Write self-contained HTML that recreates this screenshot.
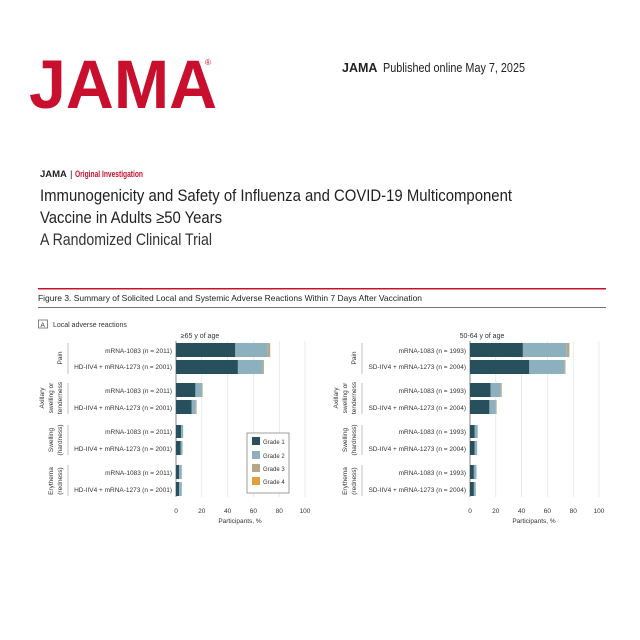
<!DOCTYPE html>
<html><head><meta charset="utf-8"><style>html,body{margin:0;padding:0;background:#fff}svg{display:block}</style></head>
<body>
<svg width="640" height="640" viewBox="0 0 640 640" xmlns="http://www.w3.org/2000/svg" font-family="Liberation Sans, sans-serif">
<rect width="640" height="640" fill="#fff"/>
<text x="29" y="108" font-size="69" font-weight="bold" fill="#c8102e" textLength="188" lengthAdjust="spacingAndGlyphs">JAMA</text>
<text x="205" y="65" font-size="8" fill="#c8102e">®</text>
<text x="342" y="72" font-size="12.5" font-weight="bold" fill="#222">JAMA</text>
<text x="383" y="72" font-size="12.5" fill="#222" textLength="142" lengthAdjust="spacingAndGlyphs">Published online May  7, 2025</text>
<text x="40" y="177" font-size="9.5" font-weight="bold" fill="#222">JAMA</text>
<text x="70" y="177" font-size="9.5" fill="#222">|</text>
<text x="75" y="177" font-size="9.5" font-weight="bold" fill="#c8102e" textLength="68" lengthAdjust="spacingAndGlyphs">Original Investigation</text>
<text x="40" y="201" font-size="16.5" fill="#222" textLength="472" lengthAdjust="spacingAndGlyphs">Immunogenicity and Safety of Influenza and COVID-19 Multicomponent</text>
<text x="40" y="223" font-size="16.5" fill="#222" textLength="182" lengthAdjust="spacingAndGlyphs">Vaccine in Adults ≥50 Years</text>
<text x="40" y="245" font-size="16.5" fill="#333" textLength="172" lengthAdjust="spacingAndGlyphs">A Randomized Clinical Trial</text>
<rect x="38" y="288" width="568" height="1.5" fill="#c8102e"/>
<text x="38" y="301" font-size="8.5" fill="#222" textLength="384" lengthAdjust="spacingAndGlyphs">Figure 3. Summary of Solicited Local and Systemic Adverse Reactions Within 7 Days After Vaccination</text>
<rect x="38" y="307" width="568" height="0.8" fill="#555"/>
<rect x="38.5" y="320" width="9" height="8" fill="none" stroke="#555" stroke-width="0.7"/>
<text x="40.5" y="327" font-size="6.5" fill="#222">A</text>
<text x="53" y="327" font-size="7" fill="#333">Local adverse reactions</text>

<g font-size="6.5" fill="#333">
<text x="200" y="338" text-anchor="middle" font-size="7">≥65 y of age</text>
<g stroke="#ddd" stroke-width="0.6">
<line x1="201.8" y1="341" x2="201.8" y2="497"/><line x1="227.6" y1="341" x2="227.6" y2="497"/><line x1="253.4" y1="341" x2="253.4" y2="497"/><line x1="279.2" y1="341" x2="279.2" y2="497"/><line x1="305" y1="341" x2="305" y2="497"/>
</g>
<line x1="176" y1="341" x2="176" y2="497" stroke="#555" stroke-width="0.7"/>
<g text-anchor="end">
<text x="172" y="353">mRNA-1083 (n = 2011)</text><text x="172" y="369">HD-IIV4 + mRNA-1273 (n = 2001)</text>
<text x="172" y="393">mRNA-1083 (n = 2011)</text><text x="172" y="410">HD-IIV4 + mRNA-1273 (n = 2001)</text>
<text x="172" y="434">mRNA-1083 (n = 2011)</text><text x="172" y="451">HD-IIV4 + mRNA-1273 (n = 2001)</text>
<text x="172" y="475">mRNA-1083 (n = 2011)</text><text x="172" y="492">HD-IIV4 + mRNA-1273 (n = 2001)</text>
</g>
<g stroke="#999" stroke-width="0.6"><line x1="68" y1="343" x2="68" y2="374"/><line x1="68" y1="383" x2="68" y2="414"/><line x1="68" y1="425" x2="68" y2="455"/><line x1="68" y1="465" x2="68" y2="496"/></g>
<text transform="translate(62,358) rotate(-90)" text-anchor="middle">Pain</text>
<text transform="translate(44,398) rotate(-90)" text-anchor="middle">Axillary</text>
<text transform="translate(53,398) rotate(-90)" text-anchor="middle">swelling or</text>
<text transform="translate(62,398) rotate(-90)" text-anchor="middle">tenderness</text>
<text transform="translate(53,440) rotate(-90)" text-anchor="middle">Swelling</text>
<text transform="translate(62,440) rotate(-90)" text-anchor="middle">(hardness)</text>
<text transform="translate(53,481) rotate(-90)" text-anchor="middle">Erythema</text>
<text transform="translate(62,481) rotate(-90)" text-anchor="middle">(redness)</text>
<g>
<rect x="176" y="343" width="59.3" height="14" fill="#284f5c"/><rect x="235.3" y="343" width="32.3" height="14" fill="#8db0bf"/><rect x="267.6" y="343" width="2.6" height="14" fill="#b5a88a"/>
<rect x="176" y="360" width="61.9" height="14" fill="#284f5c"/><rect x="237.9" y="360" width="24.5" height="14" fill="#8db0bf"/><rect x="262.4" y="360" width="1.5" height="14" fill="#b5a88a"/>
<rect x="176" y="383" width="19.4" height="14" fill="#284f5c"/><rect x="195.4" y="383" width="6.4" height="14" fill="#8db0bf"/><rect x="201.8" y="383" width="0.8" height="14" fill="#b5a88a"/>
<rect x="176" y="400" width="15.5" height="14" fill="#284f5c"/><rect x="191.5" y="400" width="3.9" height="14" fill="#8db0bf"/><rect x="195.4" y="400" width="1.2" height="14" fill="#b5a88a"/>
<rect x="176" y="425" width="5.2" height="13" fill="#284f5c"/><rect x="181.2" y="425" width="2" height="13" fill="#8db0bf"/>
<rect x="176" y="441" width="4.5" height="14" fill="#284f5c"/><rect x="180.5" y="441" width="2" height="14" fill="#8db0bf"/>
<rect x="176" y="465" width="3.2" height="14" fill="#284f5c"/><rect x="179.2" y="465" width="2.6" height="14" fill="#8db0bf"/>
<rect x="176" y="482" width="3.2" height="14" fill="#284f5c"/><rect x="179.2" y="482" width="2.6" height="14" fill="#8db0bf"/>
</g>
<g text-anchor="middle"><text x="176" y="513">0</text><text x="201.8" y="513">20</text><text x="227.6" y="513">40</text><text x="253.4" y="513">60</text><text x="279.2" y="513">80</text><text x="305" y="513">100</text></g>
<text x="240" y="523" text-anchor="middle">Participants, %</text>
<rect x="247" y="433" width="42" height="60" fill="#fff" stroke="#777" stroke-width="0.7"/>
<rect x="252" y="437" width="8" height="8" fill="#284f5c"/><text x="263" y="444" font-size="6">Grade 1</text>
<rect x="252" y="451" width="8" height="8" fill="#8db0bf"/><text x="263" y="458" font-size="6">Grade 2</text>
<rect x="252" y="464" width="8" height="8" fill="#b5a88a"/><text x="263" y="471" font-size="6">Grade 3</text>
<rect x="252" y="477" width="8" height="8" fill="#e0a040"/><text x="263" y="484" font-size="6">Grade 4</text>

<text x="482" y="338" text-anchor="middle" font-size="7">50-64 y of age</text>
<g stroke="#ddd" stroke-width="0.6">
<line x1="495.8" y1="341" x2="495.8" y2="497"/><line x1="521.6" y1="341" x2="521.6" y2="497"/><line x1="547.4" y1="341" x2="547.4" y2="497"/><line x1="573.2" y1="341" x2="573.2" y2="497"/><line x1="599" y1="341" x2="599" y2="497"/>
</g>
<line x1="470" y1="341" x2="470" y2="497" stroke="#555" stroke-width="0.7"/>
<g text-anchor="end">
<text x="466" y="353">mRNA-1083 (n = 1993)</text><text x="466" y="369">SD-IIV4 + mRNA-1273 (n = 2004)</text>
<text x="466" y="393">mRNA-1083 (n = 1993)</text><text x="466" y="410">SD-IIV4 + mRNA-1273 (n = 2004)</text>
<text x="466" y="434">mRNA-1083 (n = 1993)</text><text x="466" y="451">SD-IIV4 + mRNA-1273 (n = 2004)</text>
<text x="466" y="475">mRNA-1083 (n = 1993)</text><text x="466" y="492">SD-IIV4 + mRNA-1273 (n = 2004)</text>
</g>
<g stroke="#999" stroke-width="0.6"><line x1="362" y1="343" x2="362" y2="374"/><line x1="362" y1="383" x2="362" y2="414"/><line x1="362" y1="425" x2="362" y2="455"/><line x1="362" y1="465" x2="362" y2="496"/></g>
<text transform="translate(356,358) rotate(-90)" text-anchor="middle">Pain</text>
<text transform="translate(338,398) rotate(-90)" text-anchor="middle">Axillary</text>
<text transform="translate(347,398) rotate(-90)" text-anchor="middle">swelling or</text>
<text transform="translate(356,398) rotate(-90)" text-anchor="middle">tenderness</text>
<text transform="translate(347,440) rotate(-90)" text-anchor="middle">Swelling</text>
<text transform="translate(356,440) rotate(-90)" text-anchor="middle">(hardness)</text>
<text transform="translate(347,481) rotate(-90)" text-anchor="middle">Erythema</text>
<text transform="translate(356,481) rotate(-90)" text-anchor="middle">(redness)</text>
<g>
<rect x="470" y="343" width="52.9" height="14" fill="#284f5c"/><rect x="522.9" y="343" width="43.9" height="14" fill="#8db0bf"/><rect x="566.8" y="343" width="2.6" height="14" fill="#b5a88a"/>
<rect x="470" y="360" width="59.3" height="14" fill="#284f5c"/><rect x="529.3" y="360" width="34.9" height="14" fill="#8db0bf"/><rect x="564.2" y="360" width="1.3" height="14" fill="#b5a88a"/>
<rect x="470" y="383" width="20.6" height="14" fill="#284f5c"/><rect x="490.6" y="383" width="10.3" height="14" fill="#8db0bf"/><rect x="500.9" y="383" width="0.8" height="14" fill="#b5a88a"/>
<rect x="470" y="400" width="19.4" height="14" fill="#284f5c"/><rect x="489.4" y="400" width="6.4" height="14" fill="#8db0bf"/><rect x="495.8" y="400" width="0.8" height="14" fill="#b5a88a"/>
<rect x="470" y="425" width="4.5" height="13" fill="#284f5c"/><rect x="474.5" y="425" width="3.2" height="13" fill="#8db0bf"/>
<rect x="470" y="441" width="4.5" height="14" fill="#284f5c"/><rect x="474.5" y="441" width="2.6" height="14" fill="#8db0bf"/>
<rect x="470" y="465" width="3.9" height="14" fill="#284f5c"/><rect x="473.9" y="465" width="2.6" height="14" fill="#8db0bf"/>
<rect x="470" y="482" width="3.9" height="14" fill="#284f5c"/><rect x="473.9" y="482" width="1.9" height="14" fill="#8db0bf"/>
</g>
<g text-anchor="middle"><text x="470" y="513">0</text><text x="495.8" y="513">20</text><text x="521.6" y="513">40</text><text x="547.4" y="513">60</text><text x="573.2" y="513">80</text><text x="599" y="513">100</text></g>
<text x="534" y="523" text-anchor="middle">Participants, %</text>
</g>
</svg>
</body></html>
